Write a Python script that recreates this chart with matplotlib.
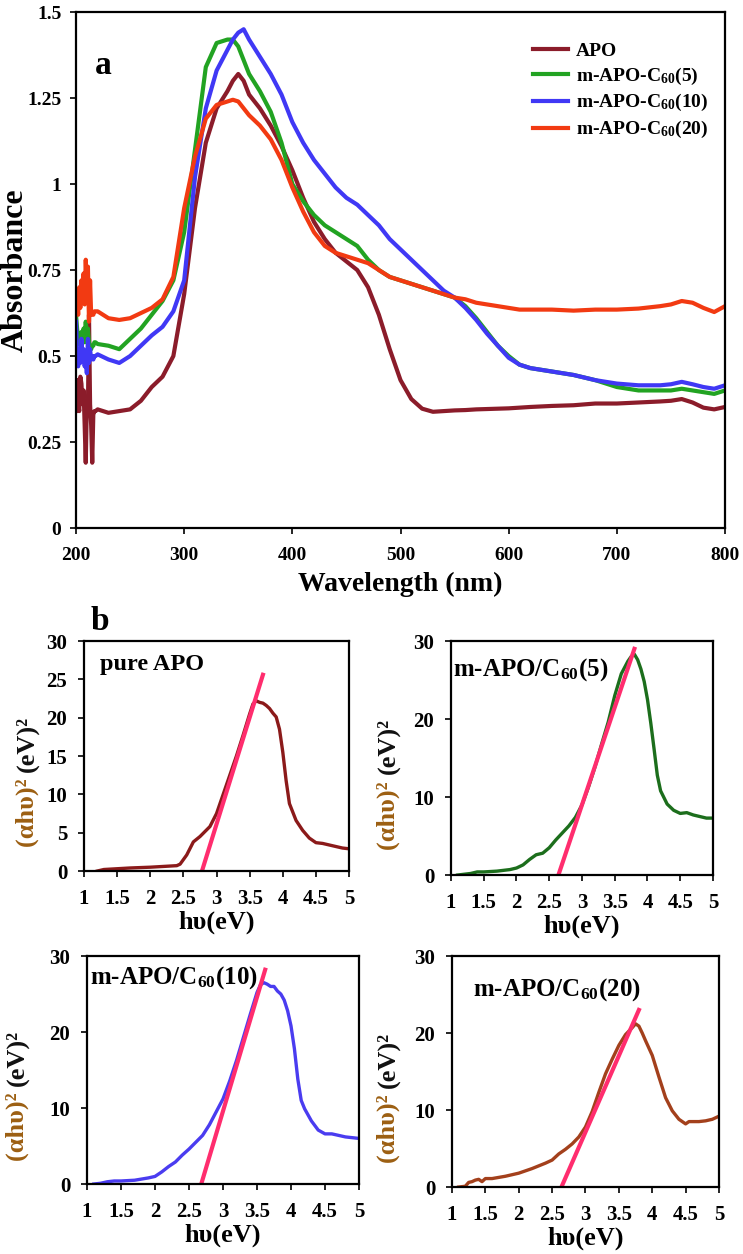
import matplotlib
matplotlib.use("Agg")
import matplotlib.pyplot as plt
import numpy as np
from matplotlib.ticker import FormatStrFormatter, FuncFormatter

plt.rcParams['font.family'] = ['Liberation Serif', 'DejaVu Serif']
plt.rcParams['font.weight'] = 'bold'
plt.rcParams['mathtext.fontset'] = 'custom'
plt.rcParams['mathtext.rm'] = 'Liberation Serif:bold'
plt.rcParams['mathtext.bf'] = 'Liberation Serif:bold'
plt.rcParams['mathtext.it'] = 'Liberation Serif:bold'

# ---- panel a: UV-vis absorbance ----
head_wl = list(range(200, 219))
main_wl = [220, 230, 240, 250, 260, 270, 280, 290, 300, 310, 320, 330, 340, 345, 350, 355,
           360, 370, 380, 390, 400, 410, 420, 430, 440, 450, 460, 470, 480, 490, 500, 510,
           520, 530, 540, 550, 560, 570, 580, 590, 600, 610, 620, 640, 660, 680, 700, 720,
           740, 750, 760, 770, 780, 790, 800]

apo_head = [0.43, 0.34, 0.36, 0.34, 0.44, 0.42, 0.36, 0.40, 0.30, 0.19, 0.36, 0.34, 0.62,
            0.36, 0.30, 0.19, 0.33, 0.34, 0.34]
apo_main = [0.345, 0.335, 0.34, 0.345, 0.37, 0.41, 0.44, 0.50, 0.68, 0.93, 1.12, 1.22, 1.27,
            1.30, 1.32, 1.30, 1.26, 1.22, 1.17, 1.11, 1.04, 0.96, 0.89, 0.84, 0.80, 0.775,
            0.75, 0.70, 0.62, 0.52, 0.43, 0.375, 0.347, 0.338, 0.34, 0.342, 0.343, 0.345,
            0.346, 0.347, 0.348, 0.35, 0.352, 0.355, 0.357, 0.362, 0.362, 0.365, 0.368, 0.37,
            0.375, 0.365, 0.35, 0.345, 0.352]

c5_head = [0.62, 0.58, 0.55, 0.56, 0.53, 0.57, 0.55, 0.58, 0.54, 0.60, 0.55, 0.58, 0.54,
           0.53, 0.52, 0.53, 0.53, 0.54, 0.54]
c5_main = [0.535, 0.53, 0.52, 0.55, 0.58, 0.62, 0.66, 0.72, 0.86, 1.10, 1.34, 1.41, 1.42,
           1.42, 1.40, 1.36, 1.32, 1.27, 1.21, 1.12, 1.00, 0.95, 0.91, 0.88, 0.86, 0.84,
           0.82, 0.78, 0.75, 0.73, 0.72, 0.71, 0.70, 0.69, 0.68, 0.67, 0.645, 0.61, 0.57,
           0.53, 0.50, 0.475, 0.465, 0.455, 0.445, 0.43, 0.41, 0.40, 0.40, 0.40, 0.405,
           0.40, 0.395, 0.39, 0.40]

c10_head = [0.60, 0.50, 0.47, 0.52, 0.48, 0.55, 0.50, 0.52, 0.47, 0.50, 0.45, 0.55, 0.48,
            0.52, 0.49, 0.50, 0.49, 0.50, 0.50]
c10_main = [0.505, 0.49, 0.48, 0.50, 0.53, 0.56, 0.585, 0.63, 0.72, 1.02, 1.22, 1.33, 1.39,
            1.42, 1.44, 1.45, 1.42, 1.37, 1.32, 1.26, 1.18, 1.12, 1.07, 1.03, 0.99, 0.96,
            0.94, 0.91, 0.88, 0.84, 0.81, 0.78, 0.75, 0.72, 0.69, 0.67, 0.64, 0.605, 0.565,
            0.53, 0.495, 0.475, 0.465, 0.455, 0.445, 0.43, 0.42, 0.415, 0.415, 0.418, 0.425,
            0.418, 0.41, 0.405, 0.415]

c20_head = [0.63, 0.66, 0.62, 0.70, 0.64, 0.72, 0.66, 0.74, 0.65, 0.78, 0.70, 0.76, 0.60,
            0.72, 0.62, 0.62, 0.62, 0.63, 0.63]
c20_main = [0.63, 0.61, 0.605, 0.61, 0.625, 0.64, 0.665, 0.73, 0.93, 1.08, 1.19, 1.23, 1.24,
            1.245, 1.24, 1.22, 1.20, 1.17, 1.13, 1.07, 0.99, 0.92, 0.86, 0.82, 0.80, 0.79,
            0.78, 0.77, 0.75, 0.73, 0.72, 0.71, 0.70, 0.69, 0.68, 0.67, 0.665, 0.655, 0.65,
            0.645, 0.64, 0.635, 0.635, 0.635, 0.632, 0.635, 0.635, 0.638, 0.645, 0.65, 0.66,
            0.655, 0.64, 0.628, 0.645]

series_labels = ['APO', r'm-APO-C$_{60}$(5)', r'm-APO-C$_{60}$(10)', r'm-APO-C$_{60}$(20)']

# ---- panel b: Tauc plots ----
apo_ev = [1.2, 1.3, 1.5, 1.7, 2.0, 2.2, 2.4, 2.45, 2.55, 2.65, 2.75, 2.9, 3.0, 3.1, 3.2, 3.3,
          3.4, 3.5, 3.55, 3.6, 3.65, 3.7, 3.75, 3.8, 3.85, 3.9, 3.95, 4.0, 4.05, 4.1, 4.2,
          4.3, 4.4, 4.5, 4.6, 4.7, 4.8, 4.9, 5.0]
apo_tauc = [0.0, 0.2, 0.3, 0.4, 0.5, 0.6, 0.7, 0.9, 2.1, 3.8, 4.5, 5.8, 7.5, 10.0, 12.5, 15.0,
            17.7, 20.5, 21.8, 22.2, 22.0, 21.9, 21.6, 21.2, 20.6, 20.1, 18.5, 15.5, 11.8, 8.8,
            6.6, 5.3, 4.3, 3.7, 3.6, 3.4, 3.2, 3.0, 2.9]
apo_fit_x = [2.78, 3.70]
apo_fit_y = [0.0, 25.6]

c5_ev = [1.1, 1.3, 1.4, 1.5, 1.7, 1.9, 2.0, 2.1, 2.2, 2.3, 2.4, 2.5, 2.6, 2.7, 2.8, 2.9, 3.0,
         3.1, 3.2, 3.3, 3.4, 3.5, 3.6, 3.7, 3.75, 3.8, 3.85, 3.9, 3.95, 4.0, 4.05, 4.1, 4.15,
         4.2, 4.3, 4.4, 4.5, 4.6, 4.7, 4.8, 4.9, 5.0]
c5_tauc = [0.0, 0.2, 0.4, 0.4, 0.5, 0.7, 0.9, 1.3, 2.0, 2.6, 2.8, 3.5, 4.5, 5.4, 6.3, 7.4, 9.0,
           11.3, 13.9, 16.8, 19.6, 23.0, 25.8, 27.4, 28.0, 28.3, 27.6, 26.4, 24.8, 22.5, 19.5,
           16.2, 12.8, 10.8, 9.1, 8.3, 7.9, 8.0, 7.7, 7.5, 7.3, 7.3]
c5_fit_x = [2.64, 3.80]
c5_fit_y = [0.0, 29.0]

c10_ev = [1.1, 1.2, 1.3, 1.4, 1.5, 1.7, 1.9, 2.0, 2.1, 2.2, 2.3, 2.4, 2.5, 2.6, 2.7, 2.8, 2.9,
          3.0, 3.1, 3.2, 3.3, 3.4, 3.5, 3.55, 3.6, 3.65, 3.7, 3.75, 3.8, 3.85, 3.9, 3.95, 4.0,
          4.05, 4.1, 4.15, 4.2, 4.3, 4.4, 4.5, 4.6, 4.7, 4.8, 4.9, 5.0]
c10_tauc = [0.0, 0.1, 0.3, 0.4, 0.4, 0.5, 0.8, 1.0, 1.6, 2.3, 2.9, 3.8, 4.6, 5.5, 6.4, 7.8,
            9.5, 11.2, 13.6, 16.3, 19.3, 22.3, 25.2, 26.2, 26.5, 26.3, 26.0, 26.0, 25.4, 25.0,
            24.2, 22.8, 20.8, 17.8, 13.8, 11.0, 9.9, 8.3, 7.1, 6.6, 6.6, 6.4, 6.2, 6.1, 6.0]
c10_fit_x = [2.68, 3.62]
c10_fit_y = [0.0, 28.2]

c20_ev = [1.1, 1.2, 1.25, 1.3, 1.35, 1.4, 1.45, 1.5, 1.6, 1.8, 2.0, 2.2, 2.4, 2.5, 2.6, 2.7,
          2.8, 2.9, 3.0, 3.1, 3.2, 3.3, 3.4, 3.5, 3.6, 3.7, 3.75, 3.8, 3.85, 3.9, 4.0, 4.1,
          4.2, 4.3, 4.4, 4.5, 4.55, 4.6, 4.7, 4.8, 4.9, 5.0]
c20_tauc = [0.0, 0.1, 0.6, 0.7, 0.9, 1.0, 0.7, 1.1, 1.1, 1.4, 1.8, 2.4, 3.1, 3.5, 4.3, 4.9,
            5.6, 6.5, 7.8, 9.8, 12.3, 14.7, 16.6, 18.4, 19.8, 20.7, 21.2, 20.9, 20.0, 19.0,
            17.1, 14.3, 11.6, 9.9, 8.8, 8.2, 8.5, 8.5, 8.5, 8.6, 8.8, 9.2]
c20_fit_x = [2.64, 3.80]
c20_fit_y = [0.0, 23.0]

line_colors = ['#8b1c2a', '#22a322', '#4038f5', '#f23a12']
fit_color = '#ff2d6e'
ylab_color = '#9c5f12'

fig = plt.figure(figsize=(7.43, 12.54), dpi=100)

# panel a
ax = fig.add_axes([0.1023, 0.5789, 0.8735, 0.4115])
wl = head_wl + main_wl
for ys, c, lab in zip([apo_head + apo_main, c5_head + c5_main, c10_head + c10_main,
                       c20_head + c20_main], line_colors, series_labels):
    ax.plot(wl, ys, color=c, lw=3, label=lab, solid_joinstyle='round')
ax.set_xlim(200, 800)
ax.set_ylim(0, 1.5)
ax.set_xticks([200, 300, 400, 500, 600, 700, 800])
ax.set_yticks([0, 0.25, 0.5, 0.75, 1, 1.25, 1.5])
ax.yaxis.set_major_formatter(FormatStrFormatter('%g'))
ax.tick_params(direction='out', length=4.5, width=1.2, labelsize=14)
ax.tick_params(axis='x', pad=9)
ax.tick_params(axis='y', pad=6)
for s in ax.spines.values():
    s.set_linewidth(1.6)
ax.set_xlabel('Wavelength (nm)', fontsize=20, fontweight='bold', labelpad=6)
ax.set_ylabel('Absorbance', fontsize=23, fontweight='bold')
ax.yaxis.set_label_coords(-0.072, 0.5)
ax.text(0.042, 0.897, 'a', transform=ax.transAxes, fontsize=24, fontweight='bold',
        ha='center', va='center')
ax.legend(loc='upper left', bbox_to_anchor=(0.704, 0.942), frameon=False, fontsize=14,
          handlelength=1.8, handletextpad=0.4, labelspacing=0.3, borderpad=0,
          borderaxespad=0)

# panel b
panels = [
    ([0.1131, 0.3054, 0.3567, 0.1834], apo_ev, apo_tauc, apo_fit_x, apo_fit_y, '#8b1a1a',
     'pure APO', (1.24, 26.9), [0, 5, 10, 15, 20, 25, 30], -0.215, 17.5),
    ([0.6070, 0.3022, 0.3526, 0.1866], c5_ev, c5_tauc, c5_fit_x, c5_fit_y, '#1c6e1c',
     r'm-APO/C$_{60}$(5)', (1.03, 26.3), [0, 10, 20, 30], -0.24, 18),
    ([0.1171, 0.0558, 0.3661, 0.1818], c10_ev, c10_tauc, c10_fit_x, c10_fit_y, '#4a3cf0',
     r'm-APO/C$_{60}$(10)', (1.04, 27.2), [0, 10, 20, 30], -0.257, 18),
    ([0.6083, 0.0534, 0.3594, 0.1842], c20_ev, c20_tauc, c20_fit_x, c20_fit_y, '#a3401c',
     r'm-APO/C$_{60}$(20)', (1.31, 25.6), [0, 10, 20, 30], -0.24, 18),
]
for rect, xs, ys, fx, fy, col, title, tpos, yt, ylx, tsize in panels:
    bx = fig.add_axes(rect)
    bx.plot(xs, ys, color=col, lw=2.4)
    bx.plot(fx, fy, color=fit_color, lw=3)
    bx.set_xlim(1, 5)
    bx.set_ylim(0, 30)
    bx.set_xticks([1, 1.5, 2, 2.5, 3, 3.5, 4, 4.5, 5])
    bx.xaxis.set_major_formatter(FuncFormatter(lambda v, p: '%g' % v))
    bx.set_yticks(yt)
    bx.tick_params(direction='out', length=4, width=1.2, labelsize=15)
    bx.tick_params(axis='x', pad=9)
    bx.tick_params(axis='y', pad=8)
    for s in bx.spines.values():
        s.set_linewidth(1.6)
    bx.set_xlabel('hυ(eV)', fontsize=19, fontweight='bold', labelpad=1)
    bx.text(tpos[0], tpos[1], title, fontsize=tsize, fontweight='bold', ha='left',
            va='center')
    bx.text(ylx, 0.43, '(αhυ)² ', transform=bx.transAxes, rotation=90,
            rotation_mode='anchor', ha='right', va='center', fontsize=19,
            fontweight='bold', color=ylab_color)
    bx.text(ylx, 0.43, '(eV)²', transform=bx.transAxes, rotation=90,
            rotation_mode='anchor', ha='left', va='center', fontsize=19,
            fontweight='bold', color='#111111')

fig.text(100 / 743, 1 - 622 / 1254, 'b', fontsize=24, fontweight='bold',
         ha='center', va='center')

fig.savefig('out.png', dpi=100, facecolor='white')
